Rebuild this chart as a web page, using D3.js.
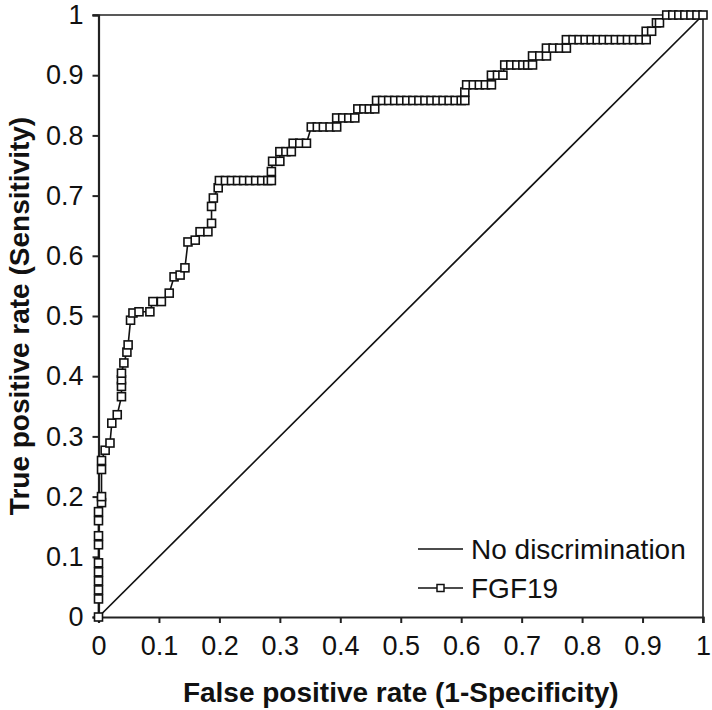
<!DOCTYPE html>
<html>
<head>
<meta charset="utf-8">
<script src="https://cdnjs.cloudflare.com/ajax/libs/d3/7.8.5/d3.min.js"></script>
<style>
  body { margin: 0; background: #fff; }
  text { font-family: "Liberation Sans", Arial, Helvetica, sans-serif; }
</style>
</head>
<body>
<div id="chart"></div>
<script>
// ROC points for FGF19 (false positive rate, true positive rate)
var fpr = [0, 0, 0, 0, 0, 0, 0, 0, 0, 0, 0.005, 0.005, 0.005, 0.005, 0.011, 0.019, 0.022, 0.031, 0.038, 0.038,
  0.038, 0.038, 0.042, 0.047, 0.049, 0.053, 0.057, 0.067, 0.085, 0.09, 0.104, 0.117, 0.125, 0.135, 0.143, 0.148,
  0.16, 0.168, 0.181, 0.187, 0.187, 0.19, 0.198, 0.2, 0.21, 0.22, 0.23, 0.24, 0.25, 0.26, 0.27, 0.28, 0.286,
  0.286, 0.288, 0.3, 0.3, 0.31, 0.319, 0.322, 0.333, 0.344, 0.352, 0.362, 0.372, 0.383, 0.394, 0.394, 0.404,
  0.414, 0.424, 0.429, 0.439, 0.448, 0.457, 0.46, 0.47, 0.48, 0.49, 0.5, 0.51, 0.52, 0.53, 0.54, 0.55, 0.56,
  0.57, 0.58, 0.59, 0.6, 0.606, 0.606, 0.609, 0.62, 0.63, 0.64, 0.65, 0.65, 0.66, 0.669, 0.672, 0.682, 0.692,
  0.702, 0.71, 0.718, 0.718, 0.73, 0.741, 0.741, 0.752, 0.763, 0.774, 0.774, 0.785, 0.795, 0.805, 0.815, 0.825,
  0.835, 0.845, 0.855, 0.865, 0.875, 0.885, 0.895, 0.906, 0.906, 0.915, 0.923, 0.928, 0.94, 0.95, 0.96, 0.97,
  0.98, 0.99, 1];
var tpr = [0, 0.03, 0.045, 0.06, 0.075, 0.09, 0.12, 0.135, 0.16, 0.175, 0.19, 0.2, 0.245, 0.26, 0.277, 0.289,
  0.322, 0.336, 0.366, 0.383, 0.394, 0.405, 0.422, 0.44, 0.452, 0.493, 0.505, 0.507, 0.507, 0.524, 0.524, 0.538,
  0.565, 0.568, 0.58, 0.623, 0.626, 0.64, 0.64, 0.654, 0.682, 0.696, 0.713, 0.725, 0.725, 0.725, 0.725, 0.725,
  0.725, 0.725, 0.725, 0.725, 0.725, 0.74, 0.757, 0.757, 0.773, 0.773, 0.773, 0.787, 0.787, 0.787, 0.814, 0.814,
  0.814, 0.814, 0.814, 0.829, 0.829, 0.829, 0.829, 0.844, 0.844, 0.844, 0.844, 0.858, 0.858, 0.858, 0.858,
  0.858, 0.858, 0.858, 0.858, 0.858, 0.858, 0.858, 0.858, 0.858, 0.858, 0.858, 0.858, 0.872, 0.884, 0.884,
  0.884, 0.884, 0.884, 0.9, 0.9, 0.9, 0.917, 0.917, 0.917, 0.917, 0.917, 0.917, 0.932, 0.932, 0.932, 0.945,
  0.945, 0.945, 0.945, 0.959, 0.959, 0.959, 0.959, 0.959, 0.959, 0.959, 0.959, 0.959, 0.959, 0.959, 0.959,
  0.959, 0.959, 0.973, 0.973, 0.987, 0.987, 1, 1, 1, 1, 1, 1, 1];
var refLine = [[0, 0], [1, 1]];
var tickVals = [0, 0.1, 0.2, 0.3, 0.4, 0.5, 0.6, 0.7, 0.8, 0.9, 1];
var legendLabels = ["No discrimination", "FGF19"];

var margin = { top: 15, right: 9, bottom: 93, left: 98.5 },
    width = 712 - margin.left - margin.right,
    height = 710 - margin.top - margin.bottom;

var points = fpr.map(function (d, i) { return [d, tpr[i]]; });

var x = d3.scaleLinear().domain([0, 1]).range([0, width]);
var y = d3.scaleLinear().domain([0, 1]).range([height, 0]);

var svg = d3.select("#chart").append("svg")
    .attr("width", 712)
    .attr("height", 710);

var g = svg.append("g")
    .attr("transform", "translate(" + margin.left + "," + margin.top + ")");

// frame top and right
g.append("line")
    .attr("x1", -6).attr("x2", x(1))
    .attr("y1", y(1)).attr("y2", y(1))
    .attr("stroke", "#222").attr("stroke-width", 1.6);
g.append("line")
    .attr("x1", x(1)).attr("x2", x(1))
    .attr("y1", y(1)).attr("y2", y(0) + 6)
    .attr("stroke", "#222").attr("stroke-width", 1.6);

// axes
var fmt = function (d) { return d === 0 || d === 1 ? d : d3.format(".1f")(d); };
var xAxis = g.append("g")
    .attr("transform", "translate(0," + height + ")")
    .call(d3.axisBottom(x).tickValues(tickVals).tickSize(6).tickPadding(13).tickFormat(fmt));
var yAxis = g.append("g")
    .call(d3.axisLeft(y).tickValues(tickVals).tickSize(6).tickPadding(9).tickFormat(fmt));

[xAxis, yAxis].forEach(function (a) {
  a.select(".domain").attr("stroke", "#222").attr("stroke-width", 2.2);
  a.selectAll(".tick line").attr("stroke", "#222").attr("stroke-width", 2);
  a.selectAll(".tick text").attr("font-size", 27).attr("fill", "#111")
    .style("font-family", "'Liberation Sans', Arial, Helvetica, sans-serif");
});

// diagonal
g.append("path")
    .datum(refLine)
    .attr("d", d3.line().x(function (d) { return x(d[0]); }).y(function (d) { return y(d[1]); }))
    .attr("fill", "none")
    .attr("stroke", "#111")
    .attr("stroke-width", 1.7);

// roc curve
g.append("path")
    .datum(points)
    .attr("d", d3.line().x(function (d) { return x(d[0]); }).y(function (d) { return y(d[1]); }))
    .attr("fill", "none")
    .attr("stroke", "#111")
    .attr("stroke-width", 1.6);

var ms = 8;
g.selectAll(".dot")
    .data(points).enter().append("rect")
    .attr("class", "dot")
    .attr("x", function (d) { return x(d[0]) - ms / 2; })
    .attr("y", function (d) { return y(d[1]) - ms / 2; })
    .attr("width", ms).attr("height", ms)
    .attr("fill", "#fff")
    .attr("stroke", "#111")
    .attr("stroke-width", 1.6);

// legend
var lg = svg.append("g").attr("transform", "translate(418,549)");
lg.selectAll("line")
    .data(legendLabels).enter().append("line")
    .attr("x1", 0).attr("x2", 45)
    .attr("y1", function (d, i) { return i * 39; })
    .attr("y2", function (d, i) { return i * 39; })
    .attr("stroke", "#111").attr("stroke-width", 1.6);
lg.append("rect")
    .attr("x", 22.5 - 3.5).attr("y", 39 - 3.5)
    .attr("width", 7).attr("height", 7)
    .attr("fill", "#fff").attr("stroke", "#111").attr("stroke-width", 1.5);
lg.selectAll("text")
    .data(legendLabels).enter().append("text")
    .attr("x", 53)
    .attr("y", function (d, i) { return i * 39 + 10; })
    .attr("font-size", 28)
    .attr("fill", "#111")
    .text(function (d) { return d; });

// axis titles
svg.append("text")
    .attr("x", margin.left + width / 2)
    .attr("y", 702)
    .attr("text-anchor", "middle")
    .attr("font-size", 28)
    .attr("font-weight", "bold")
    .attr("fill", "#111")
    .text("False positive rate (1-Specificity)");

svg.append("text")
    .attr("transform", "rotate(-90)")
    .attr("x", -(margin.top + height / 2))
    .attr("y", 29)
    .attr("text-anchor", "middle")
    .attr("font-size", 28)
    .attr("font-weight", "bold")
    .attr("fill", "#111")
    .text("True positive rate (Sensitivity)");
</script>
</body>
</html>
